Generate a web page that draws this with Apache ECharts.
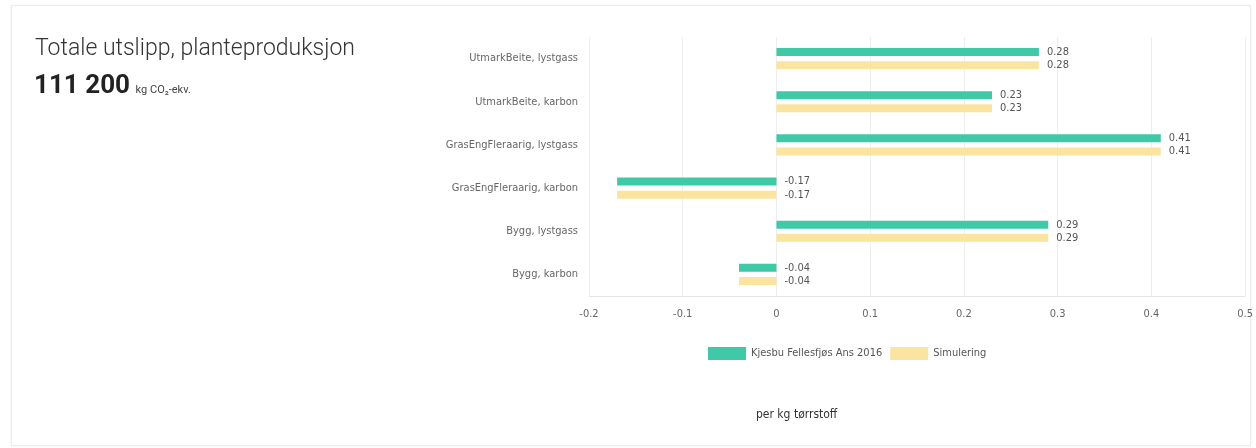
<!DOCTYPE html>
<html><head><meta charset="utf-8">
<script src="https://cdn.jsdelivr.net/npm/echarts@6/dist/echarts.min.js"></script>
<style>
html,body{margin:0;padding:0;background:#fff;}
#card{position:absolute;left:11px;top:5px;width:1238px;height:439px;border:1px solid #ececec;box-shadow:0 0 3px rgba(0,0,0,0.06);background:#fff;}
#chart{position:absolute;left:0;top:0;width:1256px;height:448px;}
</style></head><body>
<div id="card"></div>
<div id="chart"></div>
<script>
const categories = ["UtmarkBeite, lystgass","UtmarkBeite, karbon","GrasEngFleraarig, lystgass","GrasEngFleraarig, karbon","Bygg, lystgass","Bygg, karbon"];
const seriesNames = ["Kjesbu Fellesfjøs Ans 2016","Simulering"];
const actualValues = [0.28, 0.23, 0.41, -0.17, 0.29, -0.04];
const simValues = [0.28, 0.23, 0.41, -0.17, 0.29, -0.04];
const xTicks = [-0.2, -0.1, 0, 0.1, 0.2, 0.3, 0.4, 0.5];
const totalTitle = "Totale utslipp, planteproduksjon";
const totalValue = "111 200";
const totalUnit = "kg CO₂-ekv.";
const axisTitle = "per kg tørrstoff";

const chart = echarts.init(document.getElementById('chart'), null, {renderer:'canvas'});
const font = 'Roboto, sans-serif';
const narrow = '"Liberation Sans Narrow", "DejaVu Sans Condensed", Roboto, sans-serif';
const labelCfg = {show:true, position:'right', distance:8, color:'#555', fontSize:11, fontFamily:narrow,
  formatter: p => String(p.value)};
chart.setOption({
  animation:false,
  textStyle:{fontFamily:narrow},
  title:[
    {text: totalTitle, left:30, top:33, textStyle:{fontSize:23, fontWeight:300, color:'#333', fontFamily:font}},
    {text: '{v|'+totalValue+'} {u|'+totalUnit+'}', left:29, top:68,
     textStyle:{rich:{v:{fontSize:26, fontWeight:'bold', color:'#222', fontFamily:font}, u:{fontSize:11, fontWeight:'normal', color:'#444', fontFamily:font, padding:[8,0,0,0]}}}},
    {text: axisTitle, left:751, top:404, textStyle:{fontSize:12, fontWeight:'normal', color:'#333', fontFamily:narrow}}
  ],
  legend:{
    data: seriesNames, top:342, left:703, itemWidth:38, itemHeight:13, itemGap:8,
    icon:'rect', textStyle:{fontSize:11, color:'#555', fontFamily:narrow}, selectedMode:false
  },
  grid:{left:589, right:8, top:37, bottom:152, containLabel:false},
  xAxis:{
    type:'value', min:xTicks[0], max:xTicks[xTicks.length-1], interval:0.1,
    axisLabel:{color:'#666', fontSize:11, margin:13, fontFamily:narrow, formatter: v => String(Math.round(v*10)/10)},
    axisLine:{show:true, lineStyle:{color:'#e6e6e6'}},
    axisTick:{show:false},
    splitLine:{show:true, lineStyle:{color:'#eeeeee'}}
  },
  yAxis:{
    type:'category', data: categories, inverse:true,
    axisLabel:{color:'#666', fontSize:11, margin:11, fontFamily:narrow},
    axisLine:{show:false}, axisTick:{show:false}, splitLine:{show:false}
  },
  series:[
    {name:seriesNames[0], type:'bar', data: actualValues, barWidth:8, barGap:'65%', itemStyle:{color:'#3fc9a6'}, label:labelCfg},
    {name:seriesNames[1], type:'bar', data: simValues, barWidth:8, itemStyle:{color:'#fbe3a0'}, label:labelCfg}
  ]
});
</script>
</body></html>
